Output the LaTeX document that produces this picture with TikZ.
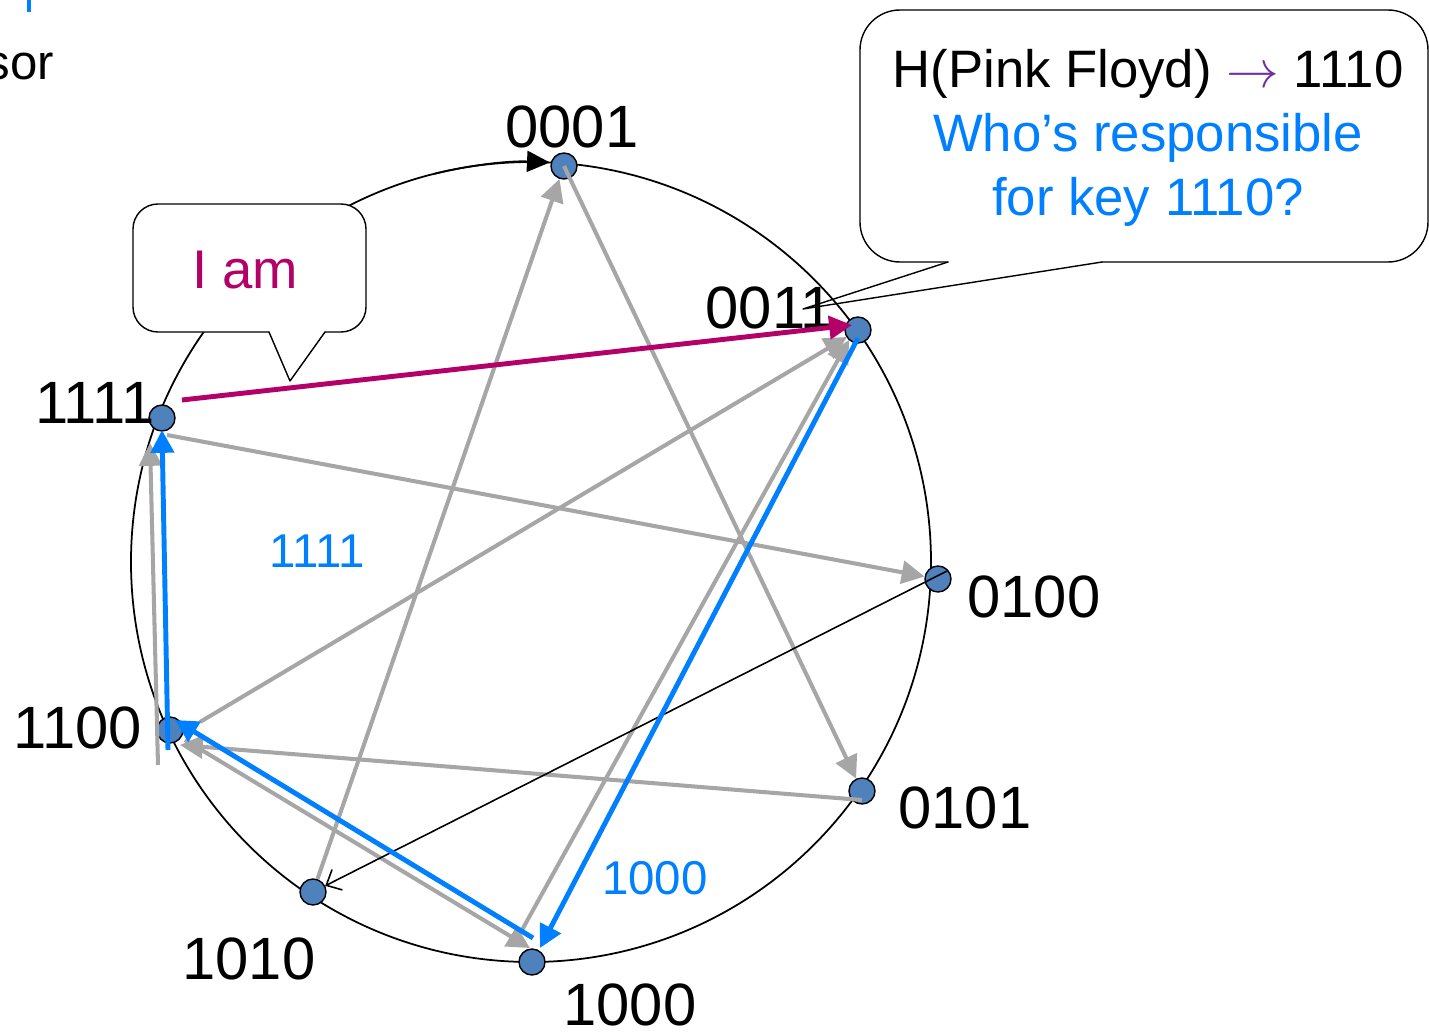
\RequirePackage{fix-cm}
\documentclass[tikz,border=0pt]{standalone}
\usepackage{fontspec}
\setmainfont{Liberation Sans}
\usetikzlibrary{arrows.meta}

\definecolor{dotblue}{RGB}{79,129,189}
\definecolor{fingergray}{RGB}{166,166,166}
\definecolor{lookblue}{RGB}{0,128,255}
\definecolor{answer}{RGB}{180,0,105}
\definecolor{hashpurple}{RGB}{112,48,160}

\begin{document}
\begin{tikzpicture}[x=0.02cm,y=0.02cm,>={Triangle[length=13pt,width=13pt]},
					peer/.style={circle,draw,fill=dotblue,line width=0.8pt,minimum size=0.52cm,inner sep=0pt},
					key label/.style={font=\fontsize{34}{40}\selectfont},
					hop label/.style={font=\fontsize{27}{32}\selectfont,text=lookblue},
					finger/.style={->,draw=fingergray,line width=2.3pt},
					lookup/.style={->,draw=lookblue,line width=2.8pt},
					reply/.style={->,draw=answer,line width=2.8pt},
					succ/.style={-{Straight Barb[length=7pt,width=13pt]},line width=0.9pt},
					callout/.style={line width=0.8pt,line cap=round,line join=round}]

				\path[use as bounding box] (-531,-470) rectangle (898,562);
				\clip (-531,-470) rectangle (898,562);

				% cut-off text of the slide
				\node[font=\fontsize{28}{34}\selectfont,anchor=base east] (cut1) at (-471,482) {sor};
				\node[font=\fontsize{28}{34}\selectfont,anchor=base east] (cut2) at (-524,410) {r};
				\draw[lookblue,line width=2.8pt] (-502,562) -- (-502,550);

				% ring
				\draw[line width=1pt] (0,0) circle (400);
				\draw[line width=1pt,-{Triangle[length=13pt,width=12pt]}] (104:400) arc (104:87.3:400);

				\node[peer] (0001) at (33,396) {};
				\node[peer] (0011) at (327,232) {};
				\node[peer] (0100) at (407,-17) {};
				\node[peer] (0101) at (331,-229) {};
				\node[peer] (1000) at (1,-400) {};
				\node[peer] (1010) at (-218,-330) {};
				\node[peer] (1100) at (-361,-168) {};
				\node[peer] (1111) at (-369,144) {};

				\node[key label] (l0001) at (41,435) {0001};
				\node[key label] (l0011) at (239,254) {0011};
				\node[key label] (l0100) at (503,-35) {0100};
				\node[key label] (l0101) at (434,-246) {0101};
				\node[key label] (l1000) at (99,-443) {1000};
				\node[key label] (l1010) at (-282,-397) {1010};
				\node[key label] (l1100) at (-453,-166) {1100};
				\node[key label] (l1111) at (-436,159) {1111};

				% fingers
				\draw[finger] (1010) -- (0001);
				\draw[finger] (0001.center) -- (0101);
				\draw[finger] ([shift={(5,-17)}]1111.center) -- (0100);
				\draw[finger] ([shift={(30,8)}]1100.center) -- ([shift={(-11,-7)}]0011.center);
				\draw[finger] ([shift={(-10,32)}]1000.center) -- ([shift={(-9,-10)}]0011.center);
				\draw[finger] ([shift={(0,-9)}]0101.center) -- ([shift={(10,-15)}]1100.center);
				\draw[finger] ([shift={(15,-10)}]1100.center) -- ([shift={(-2,14)}]1000.center);
				\draw[finger] ([shift={(-12,-35)}]1100.center) -- ([shift={(-12,-25)}]1111.center);
				\draw[succ] ([shift={(9,8)}]0100.center) -- (1010);

				% the query
				\draw[reply] ([shift={(20,18)}]1111.center) -- ([shift={(-6,5)}]0011.center);
				\draw[lookup] ([shift={(0,-8)}]0011.center) -- ([shift={(8,14)}]1000.center);
				\draw[lookup] ([shift={(1,24)}]1000.center) -- ([shift={(5,10)}]1100.center);
				\draw[lookup] ([shift={(-2,-20)}]1100.center) -- ([shift={(0,-12)}]1111.center);

				\node[hop label] (h1111) at (-214,11) {1111};
				\node[hop label] (h1000) at (124,-316) {1000};

				% callouts
				\coordinate (ia) at (-262,230);
				\coordinate (ib) at (-206,230);
				\coordinate (itip) at (-241,181);
				\fill[white,rounded corners=0.5cm] (-398,230) rectangle (-165,358);
				\draw[callout,rounded corners=0.5cm] (ia) -- (-398,230) -- (-398,358) -- (-165,358) -- (-165,230) -- (ib);
				\draw[callout] (ia) -- (itip) -- (ib);
				\node[font=\fontsize{31}{37}\selectfont,text=answer] (iam) at (-286,292) {I am};

				\coordinate (qa) at (417,300);
				\coordinate (qb) at (571,300);
				\coordinate (qtip) at (272,253);
				\fill[white,rounded corners=0.8cm] (329,300) rectangle (897,552);
				\draw[callout,rounded corners=0.8cm] (qa) -- (329,300) -- (329,552) -- (897,552) -- (897,300) -- (qb);
				\draw[callout] (qa) -- (qtip) -- (qb);
				\node[align=center,font=\fontsize{30}{36.5}\selectfont] (query) at (617,424)
					{H(Pink Floyd) \textcolor{hashpurple}{$\rightarrow$} 1110\\
					 \textcolor{lookblue}{Who’s responsible}\\
					 \textcolor{lookblue}{for key 1110?}};
			\end{tikzpicture}
\end{document}
